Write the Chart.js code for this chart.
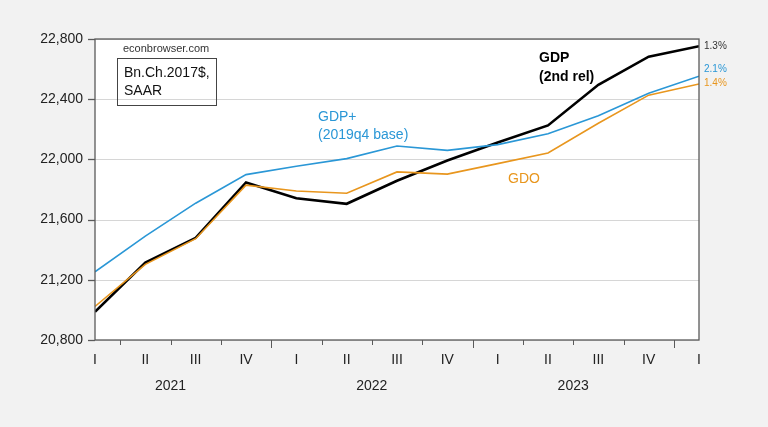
<!DOCTYPE html>
<html>
<head>
<meta charset="utf-8">
<script src="https://cdn.jsdelivr.net/npm/chart.js@4/dist/chart.umd.min.js"></script>
<style>
html,body{margin:0;padding:0;background:#f2f2f2;}
#wrap{width:768px;height:427px;position:relative;}
</style>
</head>
<body>
<div id="wrap"><canvas id="c" width="768" height="427"></canvas></div>
<script>
// Quarterly, 2021Q1 .. 2024Q1 (billions of chained 2017 $, SAAR)
const quarterLabels = ["I","II","III","IV","I","II","III","IV","I","II","III","IV","I"];
const yearLabels = ["2021","2022","2023"];
const yearCenters = [1.5, 5.5, 9.5];        // quarter index at the middle of each year
const yearBoundaries = [3.5, 7.5, 11.5];
const gdp     = [20987, 21314, 21479, 21847, 21742, 21705, 21858, 21993, 22112, 22226, 22496, 22683, 22752];
const gdpPlus = [21253, 21490, 21709, 21899, 21954, 22005, 22089, 22060, 22098, 22171, 22290, 22439, 22553];
const gdo     = [21023, 21303, 21473, 21829, 21790, 21775, 21917, 21902, 21972, 22043, 22240, 22427, 22501];
const yTicks = [20800, 21200, 21600, 22000, 22400, 22800];
const endLabels = ["1.3%", "2.1%", "1.4%"];

const BLUE = "#2a97d6", ORANGE = "#e8961e", BLACK = "#000000";
const FONT = "'Liberation Sans', Arial, sans-serif";

const toPts = arr => arr.map((v, i) => ({x: i, y: v}));

const decor = {
  id: "decor",
  beforeDatasetsDraw(chart) {
    const ctx = chart.ctx, a = chart.chartArea;
    ctx.save();
    ctx.fillStyle = "#ffffff";
    ctx.fillRect(a.left, a.top, a.right - a.left, a.bottom - a.top);
    // horizontal grid lines
    const ys = chart.scales.y;
    ctx.strokeStyle = "#d6d6d6";
    ctx.lineWidth = 1;
    yTicks.forEach(v => {
      const y = Math.round(ys.getPixelForValue(v)) + 0.5;
      ctx.beginPath(); ctx.moveTo(a.left, y); ctx.lineTo(a.right, y); ctx.stroke();
    });
    ctx.restore();
  },
  afterDatasetsDraw(chart) {
    const ctx = chart.ctx, a = chart.chartArea;
    const xs = chart.scales.x, ys = chart.scales.y;
    ctx.save();
    // frame
    ctx.strokeStyle = "#5a5a5a";
    ctx.lineWidth = 1.3;
    ctx.strokeRect(a.left, a.top, a.right - a.left, a.bottom - a.top);
    // y tick marks
    yTicks.forEach(v => {
      const y = Math.round(ys.getPixelForValue(v)) + 0.5;
      ctx.beginPath(); ctx.moveTo(a.left - 7, y); ctx.lineTo(a.left, y); ctx.stroke();
    });
    // x tick marks between quarters
    ctx.lineWidth = 1;
    for (let i = 0; i < quarterLabels.length - 1; i++) {
      const v = i + 0.5;
      const x = Math.round(xs.getPixelForValue(v)) + 0.5;
      const len = yearBoundaries.includes(v) ? 8 : 5;
      ctx.beginPath(); ctx.moveTo(x, a.bottom); ctx.lineTo(x, a.bottom + len); ctx.stroke();
    }
    // quarter labels
    ctx.fillStyle = "#222";
    ctx.font = "14px " + FONT;
    ctx.textAlign = "center";
    ctx.textBaseline = "middle";
    quarterLabels.forEach((q, i) => ctx.fillText(q, xs.getPixelForValue(i), 360));
    yearLabels.forEach((yl, i) => ctx.fillText(yl, xs.getPixelForValue(yearCenters[i]), 386));

    // annotations
    ctx.textAlign = "left";
    ctx.font = "11px " + FONT;
    ctx.fillStyle = "#333";
    ctx.fillText("econbrowser.com", 123, 49);
    ctx.strokeStyle = "#444"; ctx.lineWidth = 1;
    ctx.strokeRect(117.5, 58.5, 99, 47);
    ctx.font = "14px " + FONT;
    ctx.fillStyle = "#111";
    ctx.fillText("Bn.Ch.2017$,", 124, 73);
    ctx.fillText("SAAR", 124, 91);

    ctx.fillStyle = BLUE;
    ctx.fillText("GDP+", 318, 117);
    ctx.fillText("(2019q4 base)", 318, 135);

    ctx.fillStyle = ORANGE;
    ctx.fillText("GDO", 508, 179);

    ctx.fillStyle = BLACK;
    ctx.font = "bold 14px " + FONT;
    ctx.fillText("GDP", 539, 58);
    ctx.fillText("(2nd rel)", 539, 77);

    // end labels
    ctx.font = "10px " + FONT;
    const ex = a.right + 5;
    ctx.fillStyle = "#333";   ctx.fillText(endLabels[0], ex, 46);
    ctx.fillStyle = BLUE;     ctx.fillText(endLabels[1], ex, 69);
    ctx.fillStyle = ORANGE;   ctx.fillText(endLabels[2], ex, 83);
    ctx.restore();
  }
};

new Chart(document.getElementById("c"), {
  type: "line",
  data: {
    datasets: [
      {label: "GDP+", data: toPts(gdpPlus), borderColor: BLUE, borderWidth: 1.6, pointRadius: 0, tension: 0},
      {label: "GDO", data: toPts(gdo), borderColor: ORANGE, borderWidth: 1.6, pointRadius: 0, tension: 0},
      {label: "GDP", data: toPts(gdp), borderColor: BLACK, borderWidth: 2.6, pointRadius: 0, tension: 0}
    ]
  },
  options: {
    responsive: false,
    animation: false,
    events: [],
    layout: {padding: {left: 0, top: 39, right: 69, bottom: 87}},
    plugins: {legend: {display: false}, tooltip: {enabled: false}},
    scales: {
      x: {type: "linear", min: 0, max: quarterLabels.length - 1, display: false},
      y: {
        type: "linear", min: yTicks[0], max: yTicks[yTicks.length - 1],
        afterFit: s => { s.width = 95; },
        afterBuildTicks: s => { s.ticks = yTicks.map(v => ({value: v})); },
        grid: {display: false, drawTicks: false},
        border: {display: false},
        ticks: {
          padding: 12,
          color: "#222",
          font: {family: FONT, size: 14},
          callback: v => v.toLocaleString("en-US")
        }
      }
    }
  },
  plugins: [decor]
});
</script>
</body>
</html>
